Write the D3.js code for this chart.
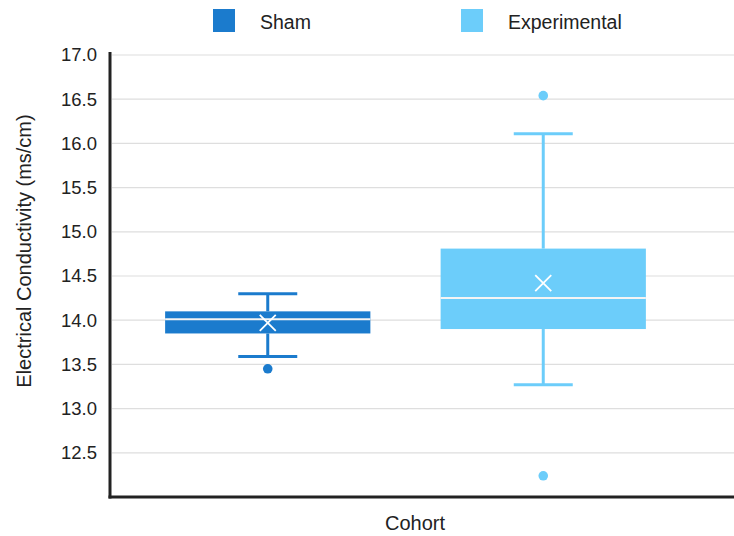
<!DOCTYPE html>
<html>
<head>
<meta charset="utf-8">
<script src="https://cdn.jsdelivr.net/npm/d3@7"></script>
<style>
    body { margin: 0; background: #fff; }
    text { font-family: "Liberation Sans", Arial, sans-serif; fill: #222; }
</style>
</head>
<body>
<svg id="chart"></svg>
<script>
// Values
const cohorts = ["Sham", "Experimental"];
const colors = ["#1b7bcd", "#6ccdfa"];
const whiskerLow = [13.59, 13.27];
const q1 = [13.85, 13.9];
const median = [14.01, 14.25];
const q3 = [14.1, 14.81];
const whiskerHigh = [14.3, 16.11];
const means = [13.97, 14.42];
const outliers = [[13.45], [16.54, 12.24]];
const yTicks = [12.5, 13.0, 13.5, 14.0, 14.5, 15.0, 15.5, 16.0, 16.5, 17.0];

const width = 734, height = 536;
const svg = d3.select("#chart").attr("width", width).attr("height", height);

const axisX = 110, axisY = 497;

const yScale = d3.scaleLinear().domain([12, 17]).range([axisY, 55]);
const xScale = d3.scaleBand().domain(cohorts).range([130, 681]).padding(0);
const boxW = xScale.bandwidth() * 0.745;
const capW = 59;

// gridlines
svg.append("g")
    .selectAll("line")
    .data(yTicks)
    .join("line")
    .attr("x1", axisX + 2)
    .attr("x2", width)
    .attr("y1", d => yScale(d))
    .attr("y2", d => yScale(d))
    .attr("stroke", "#dedede")
    .attr("stroke-width", 1.2);

// y axis tick labels
const yAxis = d3.axisLeft(yScale).tickValues(yTicks).tickSize(0).tickPadding(13).tickFormat(d3.format(".1f"));
const yAxisG = svg.append("g")
    .attr("transform", `translate(${axisX},0)`)
    .call(yAxis);
yAxisG.select(".domain").remove();
yAxisG.selectAll("text")
    .attr("font-size", "18.5px")
    .attr("fill", "#222")
    .style("font-family", "'Liberation Sans', Arial, sans-serif");

// axis lines
svg.append("line")
    .attr("x1", axisX).attr("x2", axisX)
    .attr("y1", 52).attr("y2", axisY + 1.5)
    .attr("stroke", "#222").attr("stroke-width", 3);
svg.append("line")
    .attr("x1", axisX - 1.5).attr("x2", width)
    .attr("y1", axisY).attr("y2", axisY)
    .attr("stroke", "#222").attr("stroke-width", 3);

// boxes
const boxes = svg.append("g").selectAll("g")
    .data(cohorts)
    .join("g")
    .attr("transform", d => `translate(${xScale(d) + xScale.bandwidth() / 2},0)`);

boxes.each(function(d, i) {
    const g = d3.select(this);
    const c = colors[i];

    // whiskers
    g.append("line")
        .attr("x1", 0).attr("x2", 0)
        .attr("y1", yScale(whiskerHigh[i])).attr("y2", yScale(q3[i]))
        .attr("stroke", c).attr("stroke-width", 3);
    g.append("line")
        .attr("x1", 0).attr("x2", 0)
        .attr("y1", yScale(q1[i])).attr("y2", yScale(whiskerLow[i]))
        .attr("stroke", c).attr("stroke-width", 3);
    [whiskerHigh[i], whiskerLow[i]].forEach(v => {
        g.append("line")
            .attr("x1", -capW / 2).attr("x2", capW / 2)
            .attr("y1", yScale(v)).attr("y2", yScale(v))
            .attr("stroke", c).attr("stroke-width", 3);
    });

    // box
    g.append("rect")
        .attr("x", -boxW / 2)
        .attr("width", boxW)
        .attr("y", yScale(q3[i]))
        .attr("height", yScale(q1[i]) - yScale(q3[i]))
        .attr("fill", c);

    // median
    g.append("line")
        .attr("x1", -boxW / 2).attr("x2", boxW / 2)
        .attr("y1", yScale(median[i])).attr("y2", yScale(median[i]))
        .attr("stroke", "#f4f4f4").attr("stroke-width", 2);

    // mean marker
    const my = yScale(means[i]), s = 8;
    g.append("path")
        .attr("d", `M${-s},${my - s}L${s},${my + s}M${-s},${my + s}L${s},${my - s}`)
        .attr("stroke", "#fff").attr("stroke-width", 1.8);

    // outliers
    g.selectAll("circle")
        .data(outliers[i])
        .join("circle")
        .attr("cx", 0)
        .attr("cy", v => yScale(v))
        .attr("r", 4.8)
        .attr("fill", c);
});

// legend
const legendX = [213, 461];
const legend = svg.append("g").selectAll("g")
    .data(cohorts)
    .join("g")
    .attr("transform", (d, i) => `translate(${legendX[i]},9)`);
legend.append("rect")
    .attr("width", 22)
    .attr("height", 23)
    .attr("fill", (d, i) => colors[i]);
legend.append("text")
    .attr("x", 47)
    .attr("y", 20)
    .attr("font-size", "19.5px")
    .text(d => d);

// axis titles
svg.append("text")
    .attr("x", 415)
    .attr("y", 530)
    .attr("text-anchor", "middle")
    .attr("font-size", "20px")
    .text("Cohort");

svg.append("text")
    .attr("transform", "translate(31,251) rotate(-90)")
    .attr("text-anchor", "middle")
    .attr("font-size", "20px")
    .text("Electrical Conductivity (ms/cm)");
</script>
</body>
</html>
